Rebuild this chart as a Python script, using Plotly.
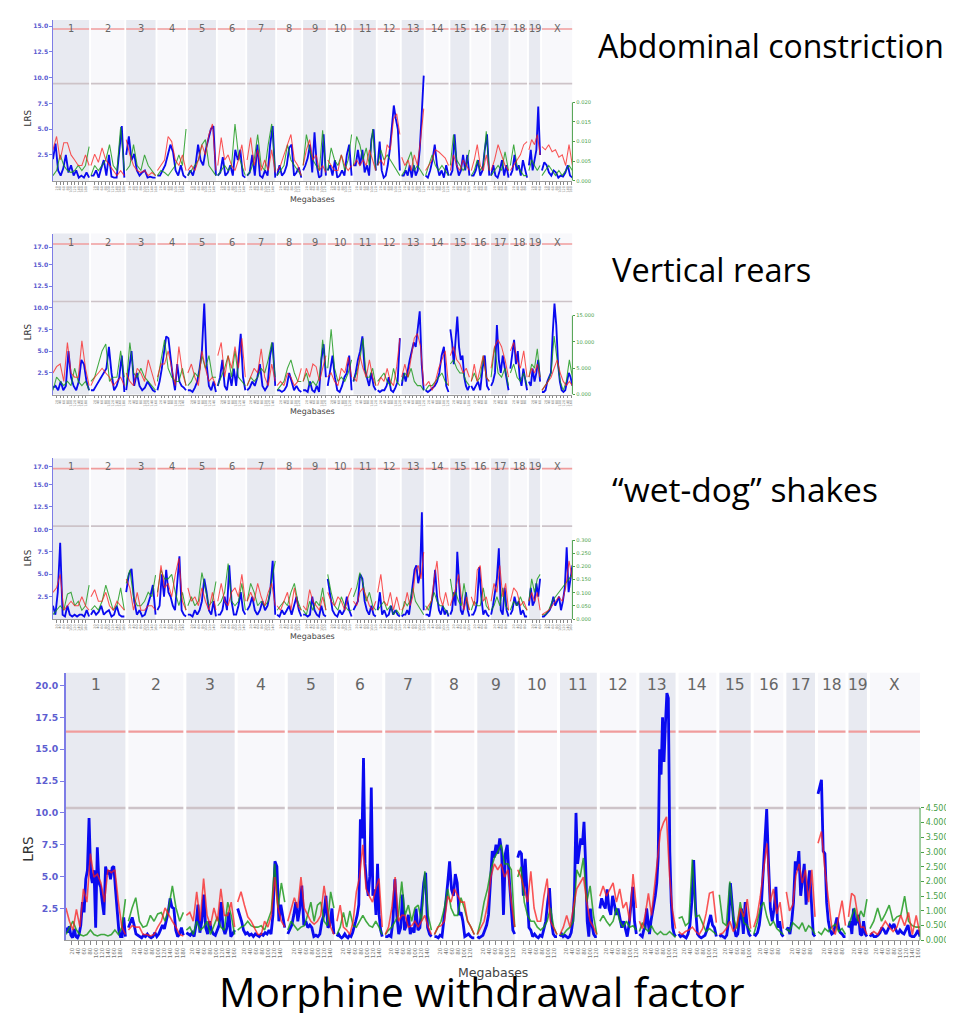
import numpy as np
import plotly.graph_objects as go

# ---------------- genome layout ----------------
CHROMS = [str(i) for i in range(1, 20)] + ["X"]
CHROM_MB = [197, 182, 160, 156, 153, 150, 153, 132, 124, 130, 122, 121, 120, 125, 104, 98, 95, 91, 61, 166]
GAP_MB = 10
MB_TICK_STEP = 20

# ---------------- Panel 1: Abdominal constriction ----------------
AC_LRS = [
    [2.1,3.6,1.0,0.5,1.2,2.5,0.8,1.5,0.5,1.0,0.3,0.5,0.3,0.8,0.3],
    [0.5,0.5,1.0,0.3,1.2,2.0,0.5,2.5,0.4,0.3,0.3,3.0,5.3,0.3],
    [2.5,4.3,2.0,2.6,1.0,0.5,0.8,1.0,0.3,0.4,0.3,0.3],
    [0.5,0.5,1.0,1.5,2.5,3.5,2.8,1.0,0.5,1.5,0.5,0.3],
    [0.5,1.0,0.5,1.5,3.5,2.0,1.5,3.0,4.0,5.0,5.3,0.5],
    [0.5,0.8,2.3,0.5,0.8,1.5,0.5,3.0,2.0,3.0,0.5,0.3],
    [0.5,0.8,2.5,0.5,3.5,0.5,0.3,1.0,0.5,3.5,5.3,0.3],
    [0.5,1.5,0.5,0.8,1.5,3.2,3.5,0.5,0.8,1.3,0.3],
    [1.0,1.5,2.2,3.5,0.8,4.7,1.5,0.3,0.5,4.5,0.5],
    [1.0,1.5,0.5,2.0,0.3,0.5,1.0,0.5,2.5,3.5,0.5],
    [1.5,1.5,3.0,1.5,3.0,0.8,1.5,0.5,4.0,5.0,1.0],
    [1.5,3.8,1.0,0.3,0.5,1.5,3.0,5.0,7.3,6.0,5.0,1.0],
    [0.5,0.5,1.0,0.5,1.5,0.3,1.5,0.5,1.0,3.0,6.5,10.2],
    [0.5,0.3,1.0,2.0,3.5,1.5,0.5,1.0,0.3,1.5,0.5],
    [0.5,1.0,4.5,1.5,0.5,1.0,2.5,1.0,2.5,0.5],
    [0.5,0.5,1.0,2.0,0.5,1.0,3.0,4.5,0.5],
    [0.5,1.5,0.5,0.3,1.0,2.0,0.5,1.5,0.3],
    [0.5,1.0,2.5,1.0,1.5,0.5,2.0,1.0,0.3],
    [1.5,3.0,1.0,2.0,3.0,7.2,2.5],
    [1.0,1.8,1.5,0.8,0.5,1.0,0.8,0.3,0.5,0.4,0.8,1.5,0.5,0.3],
]
AC_RED = [
    [0.0079,0.0113,0.0053,0.0097,0.0097,0.0066,0.0053,0.0039,0.0039,0.0066,0.0039],
    [0.0039,0.0068,0.0047,0.0084,0.0053,0.0039,0.0026,0.0013,0.0026,0.0013],
    [0.0105,0.0066,0.0039,0.0026,0.0021,0.0026,0.0013,0.0021,0.0013],
    [0.0026,0.0039,0.0053,0.0113,0.0100,0.0053,0.0039,0.0066,0.0026],
    [0.0026,0.0039,0.0026,0.0053,0.0092,0.0066,0.0118,0.0145,0.0026],
    [0.0039,0.0110,0.0053,0.0066,0.0039,0.0026,0.0053,0.0092,0.0026],
    [0.0053,0.0110,0.0039,0.0079,0.0026,0.0053,0.0026,0.0079,0.0021],
    [0.0026,0.0039,0.0066,0.0092,0.0118,0.0053,0.0039,0.0013],
    [0.0039,0.0079,0.0105,0.0053,0.0066,0.0026,0.0039,0.0021],
    [0.0053,0.0039,0.0026,0.0026,0.0066,0.0039,0.0026,0.0039],
    [0.0039,0.0053,0.0039,0.0053,0.0039,0.0079,0.0053,0.0026],
    [0.0039,0.0053,0.0039,0.0092,0.0079,0.0158,0.0171,0.0118],
    [0.0060,0.0039,0.0053,0.0026,0.0066,0.0039,0.0105,0.0184],
    [0.0026,0.0039,0.0053,0.0079,0.0074,0.0066,0.0058,0.0039],
    [0.0026,0.0066,0.0039,0.0026,0.0053,0.0039,0.0026],
    [0.0026,0.0053,0.0092,0.0039,0.0026,0.0066,0.0026],
    [0.0026,0.0053,0.0092,0.0066,0.0039,0.0026],
    [0.0026,0.0039,0.0053,0.0066,0.0092,0.0100],
    [0.0079,0.0105,0.0092,0.0118,0.0066],
    [0.0087,0.0079,0.0092,0.0074,0.0079,0.0060,0.0066,0.0039,0.0092,0.0039],
]
AC_GREEN = [
    [0.0013,0.0026,0.0066,0.0039,0.0026,0.0021,0.0026,0.0039,0.0026,0.0039,0.0087],
    [0.0013,0.0039,0.0026,0.0039,0.0053,0.0092,0.0039,0.0026,0.0137,0.0026],
    [0.0026,0.0039,0.0092,0.0039,0.0026,0.0066,0.0039,0.0026,0.0013],
    [0.0013,0.0026,0.0021,0.0013,0.0026,0.0039,0.0066,0.0039,0.0132],
    [0.0013,0.0026,0.0039,0.0053,0.0092,0.0105,0.0039,0.0026,0.0013],
    [0.0013,0.0026,0.0039,0.0026,0.0039,0.0145,0.0066,0.0039,0.0013],
    [0.0013,0.0026,0.0053,0.0118,0.0039,0.0026,0.0092,0.0145,0.0026],
    [0.0013,0.0026,0.0039,0.0092,0.0053,0.0039,0.0026,0.0013],
    [0.0039,0.0118,0.0079,0.0053,0.0039,0.0026,0.0129,0.0026],
    [0.0026,0.0084,0.0053,0.0039,0.0066,0.0026,0.0053,0.0118],
    [0.0039,0.0113,0.0092,0.0053,0.0084,0.0039,0.0132,0.0026],
    [0.0039,0.0079,0.0053,0.0066,0.0053,0.0039,0.0026,0.0013],
    [0.0013,0.0026,0.0053,0.0074,0.0026,0.0039,0.0026,0.0013],
    [0.0013,0.0039,0.0066,0.0039,0.0026,0.0039,0.0026,0.0013],
    [0.0039,0.0118,0.0053,0.0039,0.0026,0.0039,0.0079],
    [0.0013,0.0026,0.0053,0.0026,0.0039,0.0126,0.0026],
    [0.0013,0.0026,0.0039,0.0026,0.0074,0.0026],
    [0.0039,0.0092,0.0039,0.0026,0.0013,0.0013],
    [0.0026,0.0053,0.0039,0.0026,0.0039],
    [0.0013,0.0026,0.0039,0.0026,0.0013,0.0026,0.0013,0.0026,0.0039,0.0026],
]

# ---------------- Panel 2: Vertical rears ----------------
VR_LRS = [
    [0.8,1.0,0.5,1.5,0.5,1.0,5.0,2.0,1.0,0.5,1.5,4.0,3.5,1.5,0.5],
    [0.5,0.5,1.0,1.5,2.0,2.5,3.0,5.5,2.5,0.5,1.0,2.0,4.5,0.3],
    [0.5,3.0,5.0,1.0,2.5,1.0,0.5,0.8,1.5,1.0,0.5,0.3],
    [0.5,1.5,3.0,5.0,6.7,6.5,4.0,2.0,0.5,3.5,1.5,1.0,0.8,0.5],
    [0.5,0.5,0.3,0.8,1.5,3.0,5.0,10.5,3.5,1.0,0.5,1.5,0.3],
    [1.0,2.0,4.0,1.0,0.5,2.5,1.0,3.0,1.0,4.0,7.0,2.0,0.5],
    [0.5,0.8,1.5,1.0,2.0,3.5,1.0,0.5,1.0,4.5,6.0,1.0],
    [0.5,0.5,0.3,0.5,1.0,2.5,1.5,0.5,1.0,0.5,0.3],
    [0.5,0.5,0.3,1.5,0.5,0.3,1.0,0.3,4.0,5.8,2.0],
    [1.0,3.0,4.5,2.0,0.5,0.3,1.0,2.0,2.5,4.5,0.5],
    [1.5,2.5,4.0,5.0,6.7,3.0,2.0,1.0,2.5,1.0,0.5],
    [0.5,0.3,0.5,0.5,1.0,2.0,0.5,0.3,0.8,1.5,6.5],
    [1.0,2.5,1.5,3.0,4.0,5.0,6.0,5.5,8.0,9.6,3.5,0.5],
    [0.5,0.3,0.5,0.8,1.0,1.5,2.5,4.5,5.5,1.0,0.3],
    [7.5,6.0,3.5,6.5,9.0,5.5,4.0,4.5,2.0,1.0,0.5,1.0],
    [1.0,0.5,1.0,1.5,0.5,3.0,4.5,1.0,0.5],
    [1.0,1.5,2.5,8.0,4.0,2.5,4.5,3.0,1.5,0.5],
    [3.0,4.5,6.3,3.5,5.0,2.0,1.0,3.0,1.5,0.5],
    [1.5,1.0,3.0,1.5,2.5,4.0,1.5],
    [0.3,0.3,0.5,1.5,2.0,2.5,7.0,10.5,8.0,3.5,1.5,0.5,0.3,0.5,1.5,2.5,2.0,1.0],
]
VR_RED = [
    [4.1,5.3,5.8,2.5,9.9,4.1,3.3,3.3,10.2,5.0,1.7],
    [1.7,3.3,4.1,5.0,4.1,3.3,1.7,2.5,3.3,1.7],
    [4.1,2.5,1.7,5.0,4.1,2.5,6.6,4.1,1.7],
    [3.3,5.8,5.8,8.3,5.0,1.7,9.1,4.1,1.7],
    [4.1,5.8,3.3,1.7,8.3,5.0,2.5,3.3,1.7],
    [7.4,9.9,3.3,7.4,5.0,9.1,5.0,10.7,3.3],
    [1.7,3.3,5.0,4.1,8.7,3.3,1.7,5.8,2.5],
    [1.7,2.5,1.7,4.1,3.3,1.7,2.5,5.0],
    [2.5,5.0,3.3,5.8,5.3,2.5,5.0,7.4],
    [3.3,4.1,2.5,1.7,5.0,4.1,7.1,3.3],
    [3.3,2.5,7.4,5.0,3.3,6.6,3.3,1.7],
    [1.7,3.3,2.5,5.0,2.5,1.7,5.3,10.7],
    [3.3,5.8,3.3,6.6,10.7,11.6,9.1,1.7],
    [1.7,2.5,0.8,2.5,5.0,6.6,8.3,1.7],
    [7.4,9.1,6.6,5.8,4.1,5.0,3.3],
    [2.5,5.8,2.5,5.0,7.4,3.3,2.5],
    [5.0,9.1,10.4,9.1,6.6,3.3],
    [8.3,9.9,6.6,5.0,8.3,3.3],
    [3.3,5.0,4.1,5.8,3.3],
    [0.8,1.7,2.5,3.3,5.0,6.6,4.1,2.5,1.7,2.5,1.7],
]
VR_GREEN = [
    [0.8,3.3,2.5,1.7,2.5,1.7,5.0,2.5,1.7,2.5,0.8],
    [2.5,3.3,5.8,8.3,9.6,2.5,3.3,3.3,8.3,3.3],
    [1.7,9.9,4.1,3.3,5.0,3.3,2.5,1.7,0.8],
    [2.5,6.6,10.4,5.0,3.3,2.5,2.5,5.0,1.7],
    [1.7,2.5,4.1,3.3,7.4,5.0,7.4,3.3,3.3],
    [1.7,3.3,5.0,7.4,3.3,8.3,3.3,2.5,1.7],
    [1.7,3.3,2.5,3.3,5.0,4.1,6.6,9.9,3.3],
    [0.8,1.7,2.5,5.0,6.6,4.1,2.5,2.5],
    [2.5,4.1,1.7,2.5,1.7,3.3,10.4,5.0],
    [5.0,12.4,5.0,2.5,3.3,2.5,4.1,6.6],
    [2.5,4.1,6.6,10.7,3.3,3.3,5.0,1.7],
    [2.5,3.3,4.1,2.5,1.7,5.0,2.5,1.7],
    [2.5,4.1,3.3,5.0,2.5,1.7,1.7,0.8],
    [0.8,1.7,1.7,2.5,3.3,4.1,2.5,1.7],
    [5.8,6.6,5.0,4.1,4.1,2.5,1.7],
    [2.5,4.1,2.5,3.3,7.4,3.3,2.5],
    [3.3,9.1,4.1,3.3,5.0,1.7],
    [4.1,5.8,3.3,2.5,4.1,1.7],
    [3.3,5.8,5.0,8.7,3.3],
    [0.8,1.7,2.5,4.1,11.1,6.6,2.5,0.8,2.5,6.6,3.3],
]

# ---------------- Panel 3: "wet-dog" shakes ----------------
WDS_LRS = [
    [1.5,0.5,3.0,8.5,0.5,0.3,1.5,0.5,0.3,0.5,0.3,0.5,0.5,0.3,1.0,0.3],
    [0.5,1.0,0.5,0.8,1.5,0.5,0.8,1.0,0.3,0.5,1.5,0.5,0.3,0.3],
    [3.0,5.0,5.6,2.0,0.5,1.0,0.3,0.5,1.5,2.5,3.8,0.5],
    [1.0,1.5,5.0,2.5,5.5,3.0,2.5,1.5,1.0,4.5,7.0,1.0,0.5,0.3],
    [0.5,0.5,0.3,1.0,0.5,1.0,2.0,4.5,3.0,1.0,0.5,2.0,0.3],
    [0.5,0.5,1.0,2.5,1.0,6.0,2.0,0.5,0.5,1.5,3.0,1.0,0.5],
    [1.0,1.5,2.5,1.0,0.5,1.0,2.0,1.0,1.5,3.0,6.5,0.5],
    [0.5,0.3,1.0,0.5,1.0,1.5,0.5,1.5,2.5,1.0,0.3],
    [0.5,0.5,0.3,0.5,2.5,1.0,0.5,0.3,1.5,0.5,0.3],
    [4.5,2.5,1.0,0.5,0.3,1.0,0.5,1.0,2.5,1.0,0.3],
    [1.0,1.5,2.0,5.0,4.5,2.0,1.0,0.5,1.5,0.5,0.3],
    [1.0,3.0,0.5,1.0,0.3,0.5,1.5,0.5,1.0,0.5,0.3],
    [0.3,0.5,0.5,1.0,0.5,2.0,4.0,5.5,6.0,4.0,5.0,11.9,1.0],
    [0.5,0.5,0.3,1.5,3.0,5.5,2.5,1.0,0.5,1.5,0.5,1.0,0.3],
    [0.5,1.0,3.0,1.5,7.5,4.0,1.0,0.5,1.5,3.0,1.0,0.3],
    [0.5,0.5,1.0,2.0,5.8,2.5,0.5,1.0,0.5,0.3],
    [0.5,1.5,3.0,4.5,7.9,1.0,0.5,3.5,1.0,0.3],
    [0.5,1.0,2.5,1.5,2.0,0.5,1.0,0.3,0.3],
    [1.5,3.5,1.5,2.0,4.0,2.5,4.5],
    [0.3,0.3,0.5,0.8,1.0,1.5,2.5,1.5,2.0,2.5,1.0,2.0,3.5,8.0,3.0,4.5,6.0],
]
WDS_RED = [
    [0.102,0.119,0.170,0.034,0.051,0.068,0.051,0.051,0.085,0.051,0.034],
    [0.085,0.112,0.068,0.068,0.102,0.051,0.034,0.068,0.051,0.034],
    [0.153,0.119,0.034,0.102,0.034,0.034,0.051,0.051,0.034],
    [0.085,0.204,0.119,0.136,0.085,0.170,0.231,0.068,0.034],
    [0.119,0.068,0.085,0.051,0.119,0.068,0.034,0.102,0.034],
    [0.068,0.136,0.068,0.051,0.102,0.119,0.085,0.170,0.068],
    [0.068,0.102,0.068,0.136,0.085,0.051,0.102,0.136,0.051],
    [0.051,0.034,0.068,0.102,0.034,0.119,0.051,0.034],
    [0.051,0.034,0.112,0.068,0.051,0.034,0.085,0.034],
    [0.102,0.068,0.051,0.085,0.068,0.034,0.085,0.119],
    [0.068,0.051,0.102,0.119,0.085,0.051,0.034,0.068],
    [0.102,0.170,0.068,0.051,0.102,0.034,0.085,0.034],
    [0.034,0.051,0.102,0.051,0.085,0.187,0.204,0.153,0.255],
    [0.034,0.051,0.068,0.153,0.221,0.085,0.051,0.102,0.051],
    [0.051,0.085,0.119,0.170,0.085,0.034,0.085,0.034],
    [0.085,0.051,0.187,0.204,0.068,0.085,0.034],
    [0.068,0.136,0.102,0.204,0.085,0.136,0.034],
    [0.068,0.119,0.102,0.051,0.068,0.034],
    [0.068,0.102,0.068,0.102,0.034],
    [0.017,0.027,0.034,0.051,0.068,0.085,0.068,0.119,0.221,0.153],
]
WDS_GREEN = [
    [0.017,0.034,0.051,0.034,0.095,0.102,0.051,0.068,0.034,0.051,0.129],
    [0.034,0.051,0.034,0.068,0.129,0.085,0.034,0.051,0.119,0.034],
    [0.136,0.187,0.085,0.051,0.051,0.068,0.102,0.085,0.167],
    [0.102,0.187,0.153,0.153,0.170,0.102,0.051,0.102,0.034],
    [0.051,0.085,0.051,0.068,0.177,0.119,0.051,0.068,0.143],
    [0.051,0.068,0.102,0.211,0.068,0.051,0.068,0.136,0.034],
    [0.068,0.136,0.102,0.051,0.068,0.051,0.068,0.153,0.221],
    [0.034,0.051,0.068,0.051,0.102,0.136,0.068,0.034],
    [0.034,0.017,0.068,0.034,0.068,0.051,0.119,0.034],
    [0.170,0.102,0.051,0.034,0.085,0.051,0.034,0.034],
    [0.085,0.119,0.177,0.136,0.068,0.102,0.051,0.034],
    [0.034,0.051,0.068,0.034,0.051,0.017,0.034,0.017],
    [0.017,0.068,0.051,0.068,0.119,0.068,0.051,0.034,0.017],
    [0.051,0.034,0.068,0.102,0.068,0.051,0.051,0.034,0.017],
    [0.153,0.085,0.102,0.068,0.051,0.136,0.068,0.034],
    [0.034,0.068,0.051,0.051,0.119,0.051,0.034],
    [0.034,0.051,0.085,0.051,0.119,0.051,0.034],
    [0.034,0.068,0.051,0.085,0.051,0.034],
    [0.068,0.153,0.102,0.153,0.170],
    [0.017,0.017,0.034,0.068,0.085,0.102,0.119,0.136,0.153,0.170],
]

# ---------------- Panel 4: Morphine withdrawal factor ----------------
MWF_LRS = [
    [1.0,0.6,1.1,0.4,0.2,0.9,0.3,0.2,0.5,1.2,3.0,2.2,4.8,5.5,9.6,5.2,4.5,5.5,1.0,7.3,4.5,4.2,3.0,2.0,5.8,5.2,5.5,4.8,5.7,5.8,4.0,2.5,0.8,0.3,0.3,1.8,0.3],
    [1.0,1.5,1.8,1.2,0.5,0.4,0.3,0.2,0.4,0.3,0.5,0.3,0.2,0.3,0.6,0.3,0.5,0.8,1.2,0.9,1.5,2.2,3.3,2.6,2.5,0.8,0.3,0.5,1.0,0.4],
    [0.6,0.5,0.4,0.6,0.3,1.2,2.8,0.6,1.5,3.6,1.0,0.5,1.5,0.8,0.5,0.4,0.8,1.2,3.0,1.0,0.5,1.0,2.2,0.3,0.5,0.8],
    [2.5,2.0,1.5,0.8,0.5,0.6,0.4,0.5,0.3,0.5,0.4,0.3,0.5,0.4,0.6,0.5,0.8,0.5,2.0,6.2,5.8,1.5,2.8,1.8,1.0],
    [0.5,0.8,1.2,2.0,3.0,1.5,2.5,4.3,1.2,1.5,1.0,1.2,1.0,0.3,0.4,0.3,0.5,1.5,2.0,3.5,1.0,1.2,2.5,0.5],
    [0.3,0.5,0.3,0.2,0.3,0.5,0.3,0.2,0.4,0.3,0.6,1.0,1.5,2.0,2.8,9.5,8.0,14.3,6.0,4.5,3.5,5.0,12.0,3.5,4.0,2.0,6.0,2.0,0.8,0.3],
    [0.3,0.3,0.4,0.3,1.5,4.8,2.0,0.5,1.0,3.6,0.8,1.2,2.0,0.5,1.0,0.6,2.5,0.8,1.0,2.5,4.5,5.3,1.0,0.5,0.3],
    [0.3,0.3,0.2,0.4,0.3,1.5,3.0,4.5,6.2,4.0,3.5,5.2,4.5,2.0,2.2,1.5,0.3,0.4,0.5,0.3,0.2,0.2],
    [0.3,0.2,0.3,0.4,0.8,1.2,2.0,4.5,7.0,6.5,7.5,6.8,8.0,7.0,2.0,6.8,7.5,5.0,3.0,0.8,0.5],
    [6.5,7.0,6.8,3.5,6.4,4.0,1.0,0.8,0.3,0.5,0.3,0.2,0.4,0.3,0.8,1.5,3.0,4.1,1.5,0.5,0.3,0.3],
    [0.3,0.5,0.3,0.4,0.3,0.2,0.3,0.6,1.5,3.5,10.0,6.0,7.0,8.0,7.5,9.3,6.0,1.5,0.3,2.5,1.2,0.5,0.3,0.3],
    [2.5,3.3,2.8,2.5,4.0,2.5,2.0,3.5,2.8,2.0,2.5,1.8,1.0,1.5,0.8,0.3,1.2,2.5,4.2,1.5,0.5],
    [0.5,0.4,0.3,0.8,1.0,2.5,1.2,0.5,1.5,2.1,2.8,3.5,4.5,6.5,15.0,13.0,17.5,14.0,17.0,19.4,19.0,7.0,3.0,1.0,0.5,0.3],
    [0.5,0.3,0.4,0.3,0.2,0.5,1.2,3.0,6.3,2.5,0.5,0.3,0.2,0.3,0.4,0.8,1.5,2.0,1.2,1.0,0.3],
    [0.3,0.4,0.3,0.2,0.4,1.5,4.5,3.0,1.0,0.3,0.5,1.8,2.5,0.5,3.0,1.2,0.5,0.3],
    [0.5,0.4,0.6,1.2,2.5,5.0,8.5,10.3,6.0,2.5,1.5,2.5,4.2,1.0,1.5,0.5,0.3],
    [0.8,1.0,0.5,1.5,3.0,6.2,5.5,7.0,3.5,5.0,6.0,2.8,4.0,5.5,3.0,0.5,0.3],
    [11.5,12.0,12.6,7.0,6.8,3.0,1.5,0.8,0.5,0.6,1.2,1.8,1.0,0.6,0.5,0.3,0.3],
    [1.0,1.5,0.5,2.5,1.2,1.5,2.0,0.5,0.4,1.5,0.5,0.3],
    [0.3,0.5,0.3,0.3,0.4,0.6,1.0,0.8,0.5,0.8,1.2,1.0,1.3,0.8,0.5,0.8,0.6,0.5,0.9,1.2,0.4,0.3,0.3,0.5,0.8,0.3],
]
MWF_RED = [
    [1.1,0.65,0.35,1.05,0.45,1.75,1.3,2.95,2.15,2.25,1.95,1.3,2.4,2.3,2.4,1.3,0.45,0.2],
    [0.35,0.5,0.45,0.45,0.2,0.2,0.15,0.2,0.45,0.65,1.1,0.85,0.65,0.45,0.2,0.15],
    [0.85,0.95,0.65,1.65,0.65,2.1,0.85,0.5,1.1,0.65,1.75,0.85,0.85,1.3,0.45],
    [1.3,1.65,1.2,0.8,0.65,0.45,0.2,0.2,0.65,0.45,0.85,2.15,1.1,0.65,0.45],
    [0.65,1.1,1.45,1.1,2.15,1.1,0.85,0.65,0.55,0.65,0.85,1.85,1.1,0.45,0.2],
    [0.65,1.2,0.45,0.35,0.2,0.65,1.65,2.15,3.25,1.75,1.5,1.3,1.75,2.1,0.45],
    [0.2,0.45,1.1,2.15,0.65,0.85,0.85,0.45,0.5,0.65,0.45,0.65,0.85,0.45,0.2],
    [0.2,0.45,0.5,0.65,1.5,1.3,1.75,1.5,1.3,1.3,0.65,0.45,0.2],
    [0.2,0.45,0.65,1.2,2.15,2.6,2.4,2.6,2.15,2.4,1.3,0.45],
    [2.4,2.15,1.75,1.3,2.35,1.1,0.65,0.65,1.5,2.1,0.65,0.45,0.2],
    [0.2,0.45,0.85,0.45,1.1,1.75,1.95,2.15,1.3,0.65,0.45,0.2],
    [1.5,1.85,1.5,1.75,1.95,1.3,1.75,1.1,1.3,0.65,2.25,1.1],
    [0.65,0.4,0.9,1.6,0.85,1.75,2.6,3.7,4.0,4.2,2.2,1.0,0.4],
    [0.3,0.2,0.3,0.35,0.45,0.3,0.2,0.4,0.9,1.6,1.65,0.6],
    [0.2,0.25,0.4,0.65,0.3,0.5,1.1,0.8,1.4,0.4],
    [0.45,0.8,1.5,2.5,3.3,1.3,1.75,0.9,1.3,0.4],
    [1.65,1.0,1.2,2.2,2.6,1.95,2.4,1.3,2.4,0.8],
    [3.3,3.7,2.4,1.5,0.45,0.2,0.8,1.35,0.5],
    [0.8,1.6,1.5,0.85,0.45,0.45,0.2],
    [0.2,0.3,0.2,0.45,0.65,0.45,0.3,0.45,0.85,0.5,0.95,0.2,0.85,0.2],
]
MWF_GREEN = [
    [0.2,0.45,0.65,0.35,0.2,0.15,0.2,0.35,0.2,0.15,0.2,0.2,0.15,0.2,0.35,0.2,0.45,1.4],
    [0.65,1.1,1.45,0.65,0.45,0.5,0.85,0.65,0.9,0.95,0.65,1.1,1.85,1.1,0.65,0.95],
    [0.35,0.45,0.2,0.65,0.35,0.45,0.65,0.2,0.5,0.8,0.45,0.35,1.3,0.85,0.2],
    [0.35,0.45,0.5,0.65,0.5,0.45,0.45,0.5,0.35,0.65,1.0,2.6,1.1,1.95,1.3],
    [0.35,0.65,0.5,0.35,0.45,0.5,0.85,1.3,0.65,1.2,1.3,0.65,0.5,1.65,1.1],
    [0.2,0.45,0.95,0.45,1.0,0.5,0.45,0.65,0.85,0.65,0.5,0.45,0.65,0.45,0.2],
    [0.2,0.35,0.45,0.65,0.85,2.0,0.85,1.2,0.65,1.1,1.2,0.65,2.35,0.85,0.35],
    [0.2,0.45,0.65,1.1,1.75,1.1,0.85,0.85,1.45,1.1,0.65,0.45,0.2],
    [0.2,0.65,1.3,1.75,2.4,2.8,3.0,3.25,2.6,2.6,2.4,0.45],
    [2.15,2.5,1.3,0.85,0.65,0.65,0.45,0.35,0.45,0.65,1.1,0.45,0.2],
    [0.2,0.2,0.35,0.45,0.65,2.4,2.15,2.8,1.3,1.85,0.85,0.2],
    [0.65,0.85,0.65,0.5,0.65,1.1,0.65,0.45,0.65,0.45,0.5,0.35],
    [0.3,0.6,0.4,0.3,0.5,0.3,0.2,0.3,0.2,0.2,0.3,0.2,0.1],
    [0.75,0.8,0.5,0.6,2.75,0.8,0.85,0.6,0.3,0.4,0.3,0.2],
    [1.55,0.6,0.5,2.0,0.8,0.4,1.3,0.6,0.5,0.3],
    [0.2,0.6,1.1,1.3,0.8,0.5,0.65,0.4,0.3,0.2],
    [0.4,0.3,0.6,0.5,0.4,0.6,0.3,0.5,0.4,0.2],
    [0.3,0.2,0.4,0.3,0.45,0.55,0.3,0.4,0.2],
    [0.5,0.8,1.1,0.65,1.0,0.8,1.4],
    [0.4,0.65,1.1,0.65,0.9,1.2,0.65,0.8,0.85,1.5,0.65,0.5,0.45,0.45],
]

# thresholds (LRS): significant (red) and suggestive (grey)
AC_THRESH = (14.73, 9.42)
VR_THRESH = (17.34, 10.72)
WDS_THRESH = (16.77, 10.36)
MWF_THRESH = (16.38, 10.39)

# axis ticks
AC_YTICKS = [2.5, 5.0, 7.5, 10.0, 12.5, 15.0]
VR_YTICKS = [2.5, 5.0, 7.5, 10.0, 12.5, 15.0, 17.0]
WDS_YTICKS = [2.5, 5.0, 7.5, 10.0, 12.5, 15.0, 17.0]
MWF_YTICKS = [2.5, 5.0, 7.5, 10.0, 12.5, 15.0, 17.5, 20.0]
AC_Y2TICKS = [0.0, 0.005, 0.010, 0.015, 0.020]
VR_Y2TICKS = [0.0, 5.0, 10.0, 15.0]
WDS_Y2TICKS = [0.0, 0.05, 0.10, 0.15, 0.20, 0.25, 0.30]
MWF_Y2TICKS = [0.0, 0.5, 1.0, 1.5, 2.0, 2.5, 3.0, 3.5, 4.0, 4.5]

TITLES = ["Abdominal constriction", "Vertical rears", "\u201cwet-dog\u201d shakes", "Morphine withdrawal factor"]

# ---------------- helpers ----------------
W, H = 954, 1013
chrom_len = np.array(CHROM_MB, dtype=float)
starts = np.concatenate([[0.0], np.cumsum(chrom_len + GAP_MB)[:-1]])
TOTAL = starts[-1] + chrom_len[-1]


def series_xy(chrom_values):
    xs, ys = [], []
    for s, L, vals in zip(starts, chrom_len, chrom_values):
        xs += list(np.linspace(s, s + L, len(vals))) + [None]
        ys += list(vals) + [None]
    return xs, ys


def px2fx(px):
    return px / W


def px2fy(py):
    return 1 - py / H


tickvals, ticktext = [], []
for s, L in zip(starts, chrom_len):
    for mb in range(MB_TICK_STEP, int(L) + 1, MB_TICK_STEP):
        tickvals.append(s + mb)
        ticktext.append(str(mb))

panels = [
    dict(lrs=AC_LRS, red=AC_RED, green=AC_GREEN, thr=AC_THRESH, yt=AC_YTICKS, y2t=AC_Y2TICKS, y2fmt="{:.3f}",
         box=(45, 565, 12, 173.6), ymax=15.6, y2max=0.04105, scale=0.62, lrs_pos=(20, 110), mb_y=192),
    dict(lrs=VR_LRS, red=VR_RED, green=VR_GREEN, thr=VR_THRESH, yt=VR_YTICKS, y2t=VR_Y2TICKS, y2fmt="{:.3f}",
         box=(45, 565, 226.7, 388.5), ymax=18.55, y2max=30.58, scale=0.62, lrs_pos=(20, 325), mb_y=406),
    dict(lrs=WDS_LRS, red=WDS_RED, green=WDS_GREEN, thr=WDS_THRESH, yt=WDS_YTICKS, y2t=WDS_Y2TICKS, y2fmt="{:.3f}",
         box=(45, 565, 452.7, 614.2), ymax=17.9, y2max=0.610, scale=0.62, lrs_pos=(20, 552), mb_y=632),
    dict(lrs=MWF_LRS, red=MWF_RED, green=MWF_GREEN, thr=MWF_THRESH, yt=MWF_YTICKS, y2t=MWF_Y2TICKS, y2fmt="{:.3f}",
         box=(58, 913, 668, 937), ymax=21.0, y2max=9.095, scale=1.0, lrs_pos=(20, 845), mb_y=969),
]

fig = go.Figure()
shapes, annotations = [], []
layout = dict(width=W, height=H, margin=dict(l=0, r=0, t=0, b=0), paper_bgcolor="white",
              plot_bgcolor="rgba(0,0,0,0)", showlegend=False)

AXIS_BLUE = "#7d7de6"
TICK_BLUE = "#5d5dd0"
GREEN_AX = "#4a9f4a"

for i, p in enumerate(panels):
    k = i + 1
    xa = "x" if k == 1 else f"x{k}"
    ya = "y" if k == 1 else f"y{2 * k - 1}"
    y2a = f"y{2 * k}"
    x0, x1, yt0, yb0 = p["box"]
    sc = p["scale"]
    xdom = [px2fx(x0), px2fx(x1)]
    ydom = [px2fy(yb0), px2fy(yt0)]
    xname = "xaxis" if k == 1 else f"xaxis{k}"
    yname = "yaxis" if k == 1 else f"yaxis{2 * k - 1}"
    y2name = f"yaxis{2 * k}"

    layout[xname] = dict(domain=xdom, range=[0, TOTAL], anchor=ya, showgrid=False, zeroline=False,
                         showline=True, linecolor="#9a9a9a", linewidth=1,
                         tickmode="array", tickvals=tickvals, ticktext=ticktext, tickangle=-90,
                         ticks="outside", ticklen=3 * sc + 1, tickcolor="#888", tickwidth=1,
                         tickfont=dict(family="DejaVu Sans", size=5.6 * sc, color="#777"))
    layout[yname] = dict(domain=ydom, range=[0, p["ymax"]], anchor=xa, showgrid=False, zeroline=False,
                         showline=True, linecolor=AXIS_BLUE, linewidth=1.5 * sc + 0.3,
                         tickmode="array", tickvals=p["yt"], ticktext=[f"{v:.1f}" for v in p["yt"]],
                         ticks="outside", ticklen=4 * sc, tickcolor=AXIS_BLUE,
                         tickfont=dict(family="DejaVu Sans", size=8.5 * sc + 0.8, color=TICK_BLUE, weight="bold"))
    layout[y2name] = dict(range=[0, p["y2max"]], overlaying=ya, anchor=xa, side="right", showgrid=False,
                          zeroline=False, showline=False,
                          tickmode="array", tickvals=p["y2t"], ticktext=[p["y2fmt"].format(v) for v in p["y2t"]],
                          ticks="outside", ticklen=3 * sc, tickcolor=GREEN_AX,
                          tickfont=dict(family="DejaVu Sans", size=7.5 * sc + 0.5, color=GREEN_AX))

    sig, sugg = p["thr"]
    for c, (s, L) in enumerate(zip(starts, chrom_len)):
        shapes.append(dict(type="rect", xref=xa, yref=f"{ya} domain", x0=s, x1=s + L, y0=0, y1=1,
                           fillcolor="#e8eaf1" if c % 2 == 0 else "#f8f8fb", line=dict(width=0), layer="below"))
        shapes.append(dict(type="line", xref=xa, yref=ya, x0=s, x1=s + L, y0=sugg, y1=sugg,
                           line=dict(color="#cdc3c8", width=2.2 * sc + 0.2), layer="below"))
        shapes.append(dict(type="line", xref=xa, yref=ya, x0=s, x1=s + L, y0=sig, y1=sig,
                           line=dict(color="#f09c9c", width=2.2 * sc + 0.2), layer="below"))
        annotations.append(dict(x=s + L / 2, y=1, xref=xa, yref=f"{ya} domain", text=CHROMS[c],
                                showarrow=False, yanchor="top", xanchor="center", yshift=-1,
                                font=dict(family="DejaVu Sans", size=15 * sc + 0.5, color="#666")))
    shapes.append(dict(type="line", xref=f"{xa} domain", yref=y2a, x0=1, x1=1, y0=0, y1=p["y2t"][-1],
                       line=dict(color=GREEN_AX, width=1)))

    gx, gy = series_xy(p["green"])
    rx, ry = series_xy(p["red"])
    bx, by = series_xy(p["lrs"])
    fig.add_trace(go.Scatter(x=gx, y=gy, xaxis=xa, yaxis=y2a, mode="lines",
                             line=dict(color="rgba(20,150,20,0.8)", width=1.4 * sc + 0.2), hoverinfo="skip"))
    fig.add_trace(go.Scatter(x=rx, y=ry, xaxis=xa, yaxis=y2a, mode="lines",
                             line=dict(color="rgba(250,30,30,0.75)", width=1.4 * sc + 0.2), hoverinfo="skip"))
    fig.add_trace(go.Scatter(x=bx, y=by, xaxis=xa, yaxis=ya, mode="lines",
                             line=dict(color="#0a0af0", width=2.5 * sc + 0.3), hoverinfo="skip"))

    lx, ly = p["lrs_pos"]
    annotations.append(dict(x=px2fx(lx), y=px2fy(ly), xref="paper", yref="paper", text="LRS", textangle=-90,
                            showarrow=False, xanchor="center", yanchor="middle",
                            font=dict(family="DejaVu Sans", size=12.5 * sc + 1.0, color="#333")))
    annotations.append(dict(x=px2fx((x0 + x1) / 2), y=px2fy(p["mb_y"]), xref="paper", yref="paper",
                            text="Megabases", showarrow=False, xanchor="center", yanchor="middle",
                            font=dict(family="DejaVu Sans", size=12 * sc + 0.5, color="#444")))

TITLE_FONT = "Open Sans"
annotations.append(dict(x=px2fx(589), y=px2fy(38), xref="paper", yref="paper", text=TITLES[0],
                        xanchor="left", yanchor="middle", showarrow=False,
                        font=dict(family=TITLE_FONT, size=32, color="black")))
annotations.append(dict(x=px2fx(603), y=px2fy(263), xref="paper", yref="paper", text=TITLES[1],
                        xanchor="left", yanchor="middle", showarrow=False,
                        font=dict(family=TITLE_FONT, size=32.5, color="black")))
annotations.append(dict(x=px2fx(603), y=px2fy(483), xref="paper", yref="paper", text=TITLES[2],
                        xanchor="left", yanchor="middle", showarrow=False,
                        font=dict(family=TITLE_FONT, size=33.5, color="black")))
annotations.append(dict(x=px2fx(474), y=px2fy(988), xref="paper", yref="paper", text=TITLES[3],
                        xanchor="center", yanchor="middle", showarrow=False,
                        font=dict(family=TITLE_FONT, size=40.5, color="black")))

layout["shapes"] = shapes
layout["annotations"] = annotations
fig.update_layout(**layout)
fig.write_html("out.html")
